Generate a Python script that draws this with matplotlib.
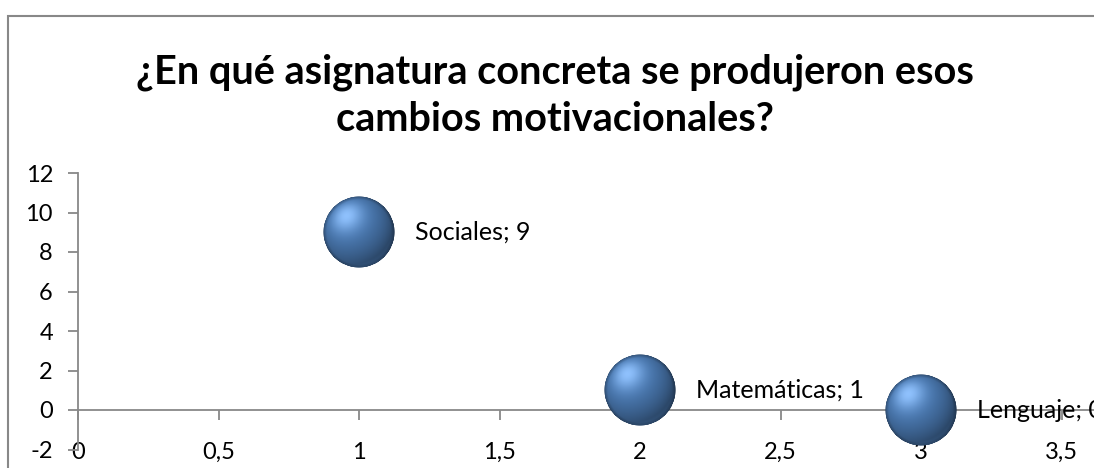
## Bubble chart : asignatura vs cambios motivacionales ##
import numpy as np
import matplotlib
matplotlib.use('Agg')
import matplotlib.pyplot as plt
from matplotlib.patches import Rectangle
from matplotlib.offsetbox import OffsetImage, AnnotationBbox

##############################################################################
############################     Data     ####################################
##############################################################################
asignaturas = ['Sociales', 'Matemáticas', 'Lenguaje']
pos_x = [1, 2, 3]
respuestas = [9, 1, 0]

x_ticks = [0, 0.5, 1, 1.5, 2, 2.5, 3, 3.5]
x_tick_labels = ['0', '0,5', '1', '1,5', '2', '2,5', '3', '3,5']
y_ticks = [-2, 0, 2, 4, 6, 8, 10, 12]

titulo = '¿En qué asignatura concreta se produjeron esos\ncambios motivacionales?'

plt.rcParams['font.family'] = ['Lato', 'DejaVu Sans']
plt.rcParams['axes.unicode_minus'] = False
gray = '#888888'

##############################################################################
##########################     Sphere image     ##############################
##############################################################################
def sphere_image(n=160, base=(79/255., 129/255., 189/255.)):
    ''' Shaded sphere (rgba array) like the excel 3D bubbles '''
    u = np.linspace(-1, 1, n)
    X, Y = np.meshgrid(u, -u)
    R2 = X**2 + Y**2
    Z = np.sqrt(np.clip(1 - R2, 0, 1))
    L = np.array([-0.35, 0.45, 0.82])
    L = L / np.linalg.norm(L)
    diff = np.clip(X*L[0] + Y*L[1] + Z*L[2], 0, 1)
    spec = diff**10
    # light rim at the bottom (reflection)
    rim = np.clip(-Y, 0, 1)**2 * (1 - Z)**1.5
    img = np.zeros((n, n, 4))
    for c in range(3):
        img[:, :, c] = base[c]*(0.55 + 0.45*diff) + 0.25*spec + 0.20*rim*base[c]
    # darker outline
    edge = np.clip((np.sqrt(R2) - 0.9)/0.1, 0, 1)
    img[:, :, :3] *= (1 - 0.25*edge)[:, :, None]
    img[:, :, :3] = np.clip(img[:, :, :3], 0, 1)
    r = np.sqrt(R2)
    img[:, :, 3] = np.clip((1 - r)*n/2, 0, 1)
    return img

##############################################################################
##########################     Figure     ####################################
##############################################################################
fig = plt.figure(figsize=(10.94, 4.68), dpi=100)

# chart frame (cropped on the right and bottom)
fig.patches.append(Rectangle((8/1094, -0.1), 1.2, (468-16)/468 + 0.1,
                             transform=fig.transFigure, fill=False,
                             edgecolor=gray, lw=1.5))

ax = fig.add_axes([78/1094, 18.5/468, 1 - 78/1094, 276.5/468])
ax.patch.set_alpha(0)
ax.set_xlim(0, (1094 - 78)/281.)
ax.set_ylim(-2, 12)

ax.spines['top'].set_visible(False)
ax.spines['right'].set_visible(False)
ax.spines['left'].set_color(gray)
ax.spines['bottom'].set_color(gray)
ax.spines['bottom'].set_position(('data', 0))
ax.spines['left'].set_linewidth(1.3)
ax.spines['bottom'].set_linewidth(1.3)

ax.set_xticks(x_ticks)
ax.set_xticklabels(x_tick_labels)
ax.set_yticks(y_ticks)
ax.tick_params(axis='x', direction='out', length=7, width=1.3, color=gray,
               pad=16, labelsize=17)
ax.tick_params(axis='y', direction='out', length=7, width=1.3, color=gray,
               pad=11, labelsize=17)

# bubbles
esfera = sphere_image()
for x, y in zip(pos_x, respuestas):
    ab = AnnotationBbox(OffsetImage(esfera, zoom=72/1.389/160.), (x, y),
                        frameon=False, zorder=4, annotation_clip=False)
    ax.add_artist(ab)

# data labels (the last one is cut by the chart edge, as in the original)
for name, x, y in zip(asignaturas, pos_x, respuestas):
    ax.annotate(name + '; ' + str(y), (x, y), xytext=(40, 0),
                textcoords='offset points', va='center', ha='left',
                fontsize=18, zorder=5, annotation_clip=False)

fig.text(555/1094, 1 - 96/468, titulo, ha='center', va='center',
         fontsize=28.5, fontweight='bold', linespacing=1.33)

fig.savefig('out.png', dpi=100)
